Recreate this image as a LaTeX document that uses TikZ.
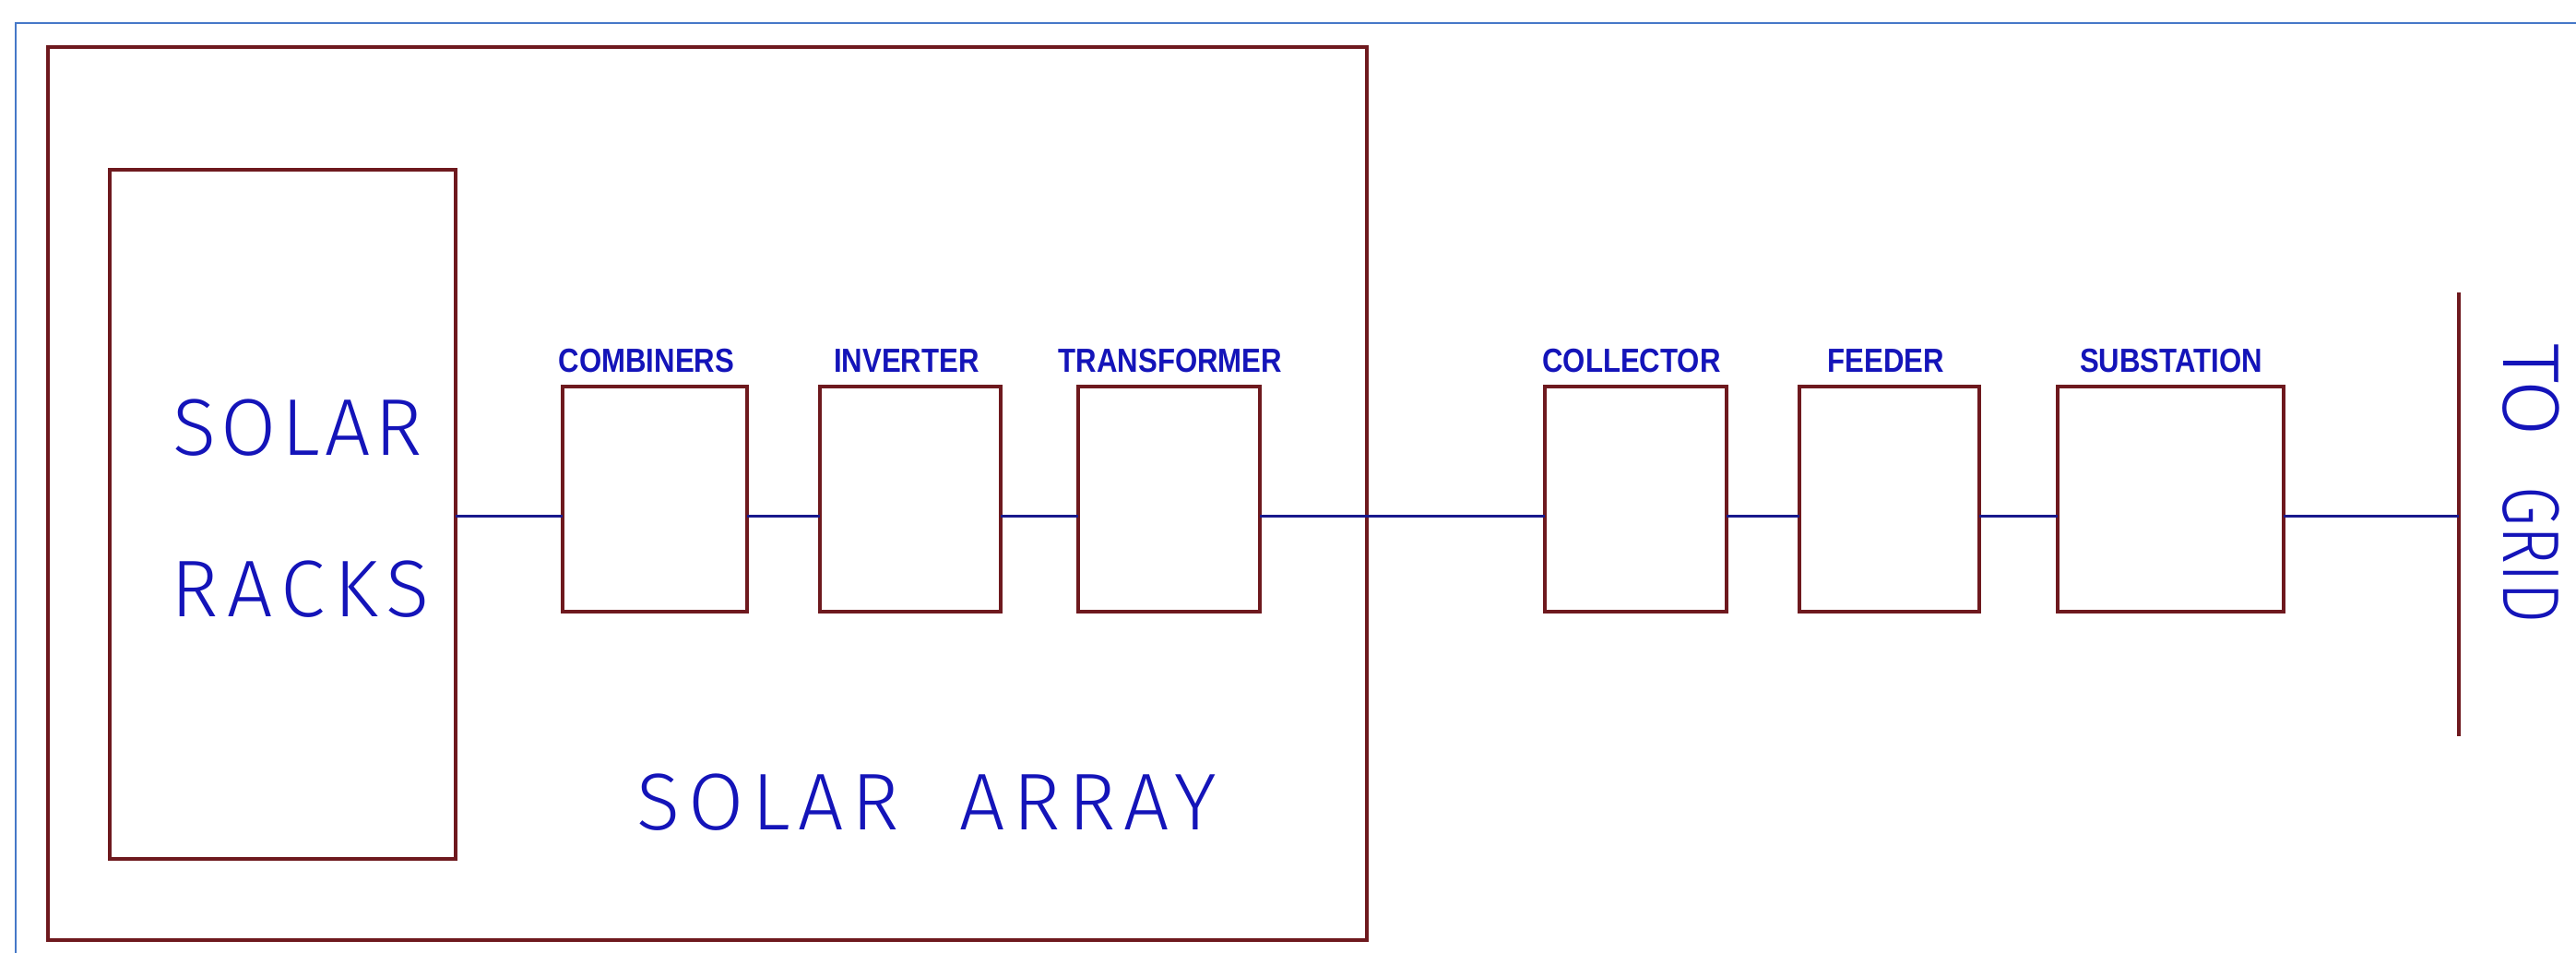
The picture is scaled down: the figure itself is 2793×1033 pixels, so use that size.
\documentclass[tikz,border=0pt]{standalone}
\usepackage{fontspec}
\setmainfont{Liberation Sans}
\newfontfamily\bigfont{Fira Sans Light}
\newfontfamily\lblfont{Liberation Sans}[FakeStretch=0.86]
\definecolor{boxred}{RGB}{110,25,30}
\definecolor{wireblue}{RGB}{25,25,140}
\definecolor{txtblue}{RGB}{20,20,185}
\definecolor{frameblue}{RGB}{70,120,200}
\tikzset{
  redbox/.style={draw=boxred, line width=1.1pt, inner sep=0pt, outer sep=0pt},
  wire/.style={draw=wireblue, line width=0.85pt},
  lbl/.style={text=txtblue, font=\lblfont\bfseries\fontsize{10.3}{12}\selectfont, inner sep=0pt, anchor=base},
  bigtxt/.style={text=txtblue, font=\bigfont\fontsize{24.8}{30}\selectfont, inner sep=0pt, anchor=base west}
}
\begin{document}
\begin{tikzpicture}[x=0.01cm,y=-0.01cm]
\useasboundingbox (0,0) rectangle (2793,1033);
\fill[white] (0,0) rectangle (2793,1033);
% blue frame
\draw[frameblue, line width=0.6pt] (17,1033) -- (17,25) -- (2793,25);
% solar array outer box
\node[redbox, minimum width=14.30cm, minimum height=9.68cm] (array) at (767,535) {};
\node[redbox, minimum width=3.75cm, minimum height=7.47cm] (racks) at (306.5,557.5) {};
% component boxes
\node[redbox, minimum width=2.00cm, minimum height=2.44cm] (comb) at (710,541) {};
\node[redbox, minimum width=1.96cm, minimum height=2.44cm] (inv) at (987,541) {};
\node[redbox, minimum width=1.97cm, minimum height=2.44cm] (trans) at (1267.5,541) {};
\node[redbox, minimum width=1.97cm, minimum height=2.44cm] (coll) at (1773.5,541) {};
\node[redbox, minimum width=1.95cm, minimum height=2.44cm] (feed) at (2048.5,541) {};
\node[redbox, minimum width=2.45cm, minimum height=2.44cm] (subst) at (2353.5,541) {};
% grid bar
\coordinate (gtop) at (2666,317);
\coordinate (gbot) at (2666,798);
\coordinate (gmid) at (2666,559);
\draw[boxred, line width=1.1pt] (gtop) -- (gbot);
% wires
\draw[wire] (racks.east |- 0,559) -- (comb.west |- 0,559);
\draw[wire] (comb.east |- 0,559) -- (inv.west |- 0,559);
\draw[wire] (inv.east |- 0,559) -- (trans.west |- 0,559);
\draw[wire] (trans.east |- 0,559) -- (coll.west |- 0,559);
\draw[wire] (coll.east |- 0,559) -- (feed.west |- 0,559);
\draw[wire] (feed.east |- 0,559) -- (subst.west |- 0,559);
\draw[wire] (subst.east |- 0,559) -- (gmid);
% labels
\node[lbl] (lcomb) at (701,403) {COMBINERS};
\node[lbl] (linv) at (983,403) {INVERTER};
\node[lbl] (ltrans) at (1269,403) {TRANSFORMER};
\node[lbl] (lcoll) at (1769,403) {COLLECTOR};
\node[lbl] (lfeed) at (2045,403) {FEEDER};
\node[lbl] (lsubst) at (2354,403) {SUBSTATION};
% big text
\node[bigtxt] (tsolar) at (187,493) {\addfontfeature{LetterSpace=6}SOLAR};
\node[bigtxt] (tracks) at (185,668) {\addfontfeature{LetterSpace=11}RACKS};
\node[bigtxt] (tarray) at (690,899) {\addfontfeature{LetterSpace=10}SOLAR\hspace{0.75em}ARRAY};
\node[bigtxt, rotate=-90] (tgrid) at (2714,372) {TO\hspace{0.62em}\scalebox{0.8}[1]{GRID}};
\end{tikzpicture}
\end{document}
